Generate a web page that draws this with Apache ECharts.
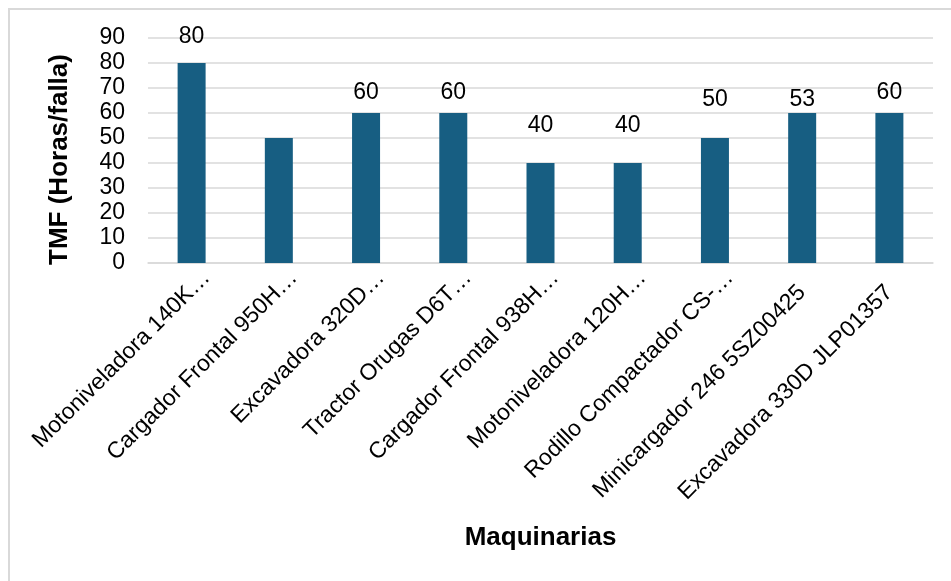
<!DOCTYPE html>
<html>
<head>
<meta charset="utf-8">
<script src="https://cdn.jsdelivr.net/npm/echarts@6/dist/echarts.min.js"></script>
<style>
  html, body { margin: 0; padding: 0; background: #fff; }
  #frame { position: absolute; left: 8px; top: 8px; width: 960px; height: 600px;
           border-left: 2px solid #d9d9d9; border-top: 2px solid #d9d9d9; }
  #chart { position: absolute; left: 0; top: 0; width: 951px; height: 581px; }
</style>
</head>
<body>
<div id="frame"></div>
<div id="chart"></div>
<script>
const maquinas = [
  'Motoniveladora 140K…',
  'Cargador Frontal 950H…',
  'Excavadora 320D…',
  'Tractor Orugas D6T…',
  'Cargador Frontal 938H…',
  'Motoniveladora 120H…',
  'Rodillo Compactador CS-…',
  'Minicargador 246 5SZ00425',
  'Excavadora 330D JLP01357'
]
const tmf = [80, 50, 60, 60, 40, 40, 50, 60, 60]
// texts of the data labels as printed on the chart ('' = no label shown)
const etiquetas = ['80', '', '60', '60', '40', '40', '50', '53', '60']
const labelGap = [15, 0, 9, 9, 26, 26, 27, 2, 9]

const FONT = '"Liberation Sans", Arial, sans-serif'

const myChart = echarts.init(document.getElementById('chart'))

const option = {
  animation: false,
  textStyle: { fontFamily: FONT, color: '#000' },
  grid: { left: 148, right: 18, top: 38, bottom: 318, containLabel: false },
  xAxis: {
    type: 'category',
    data: maquinas,
    name: 'Maquinarias',
    nameLocation: 'middle',
    nameGap: 262,
    nameTextStyle: { fontFamily: FONT, fontSize: 26, fontWeight: 'bold', color: '#000' },
    axisLine: { lineStyle: { color: '#d9d9d9', width: 1.5 } },
    axisTick: { show: false },
    axisLabel: {
      rotate: 45,
      interval: 0,
      margin: 26,
      fontFamily: FONT,
      fontSize: 23,
      color: '#000',
      // truncated names sit a bit further out than the full ones
      formatter: (v) => v.endsWith('…') ? '{t|' + v + '}' : '{f|' + v + '}',
      rich: {
        t: { fontFamily: FONT, fontSize: 23, color: '#000', padding: [0, -21, 0, 0] },
        f: { fontFamily: FONT, fontSize: 23, color: '#000' }
      }
    }
  },
  yAxis: {
    type: 'value',
    min: 0,
    max: 90,
    interval: 10,
    name: 'TMF (Horas/falla)',
    nameLocation: 'middle',
    nameGap: 75,
    nameTextStyle: { fontFamily: FONT, fontSize: 26, fontWeight: 'bold', color: '#000', padding: [0, 18, 0, 0] },
    axisLine: { show: false },
    axisTick: { show: false },
    axisLabel: { margin: 23, fontFamily: FONT, fontSize: 23, color: '#000' },
    splitLine: { lineStyle: { color: '#d9d9d9', width: 1.5 } }
  },
  series: [{
    type: 'bar',
    barWidth: 28,
    itemStyle: { color: '#175E82' },
    data: tmf.map((v, i) => ({
      value: v,
      label: {
        show: etiquetas[i] !== '',
        position: 'top',
        distance: labelGap[i],
        formatter: etiquetas[i],
        fontFamily: FONT,
        fontSize: 23,
        color: '#000'
      }
    }))
  }]
}

myChart.setOption(option)
</script>
</body>
</html>
